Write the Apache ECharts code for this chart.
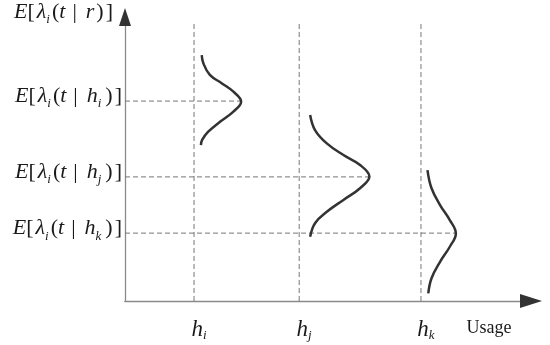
<!DOCTYPE html>
<html>
<head>
<meta charset="utf-8">
<script src="https://cdn.jsdelivr.net/npm/echarts@6/dist/echarts.min.js"></script>
<style>
  html, body { margin: 0; padding: 0; background: #fff; }
  #chart { width: 550px; height: 345px; }
</style>
</head>
<body>
<div id="chart"></div>
<script>
// positions of h_i, h_j, h_k on the usage axis
const hPos = [1.7, 4.29, 7.29]
const hSubs = ['i', 'j', 'k']
// expected values E[λi(t|h)] for each h
const levels = [7.04, 4.37, 2.39]
const dashTop = 9.8

// distribution curves, [usage, value]
const curveI = [[1.89, 8.66], [1.93, 8.37], [2.09, 7.96], [2.38, 7.67], [2.67, 7.37], [2.86, 7.02],
  [2.67, 6.67], [2.34, 6.31], [2.05, 5.96], [1.90, 5.67], [1.87, 5.49]]
const curveJ = [[4.56, 6.55], [4.68, 6.02], [4.97, 5.55], [5.38, 5.14], [5.79, 4.79], [6.02, 4.38],
  [5.79, 3.97], [5.38, 3.56], [4.97, 3.14], [4.68, 2.74], [4.56, 2.26]]
const curveK = [[7.45, 4.61], [7.55, 3.97], [7.76, 3.38], [8.00, 2.85], [8.15, 2.38],
  [8.00, 1.91], [7.76, 1.38], [7.55, 0.80], [7.47, 0.27]]
const curves = [curveI, curveJ, curveK]
const peaks = [2.86, 6.02, 8.15]

const serif = 'Liberation Serif'
const ink = '#1a1a1a'
const dashColor = '#777'
const axisGray = '#8a8a8a'
const arrowDark = '#333'

// main glyphs lifted a little, subscripts dropped
const up = (r, l) => [0, r || 0, 10, l || 0]
const mathRich = {
  n: { fontFamily: serif, fontSize: 22, color: ink, padding: up() },
  nl: { fontFamily: serif, fontSize: 22, color: ink, padding: up(0, 2) },
  m: { fontFamily: serif, fontSize: 22, fontStyle: 'italic', color: ink, padding: up() },
  ml: { fontFamily: serif, fontSize: 22, fontStyle: 'italic', color: ink, padding: up(0, 2) },
  bar: { fontFamily: serif, fontSize: 22, color: ink, padding: up(9, 7) },
  s: { fontFamily: serif, fontSize: 13, fontStyle: 'italic', color: ink, padding: [6, 2, 0, 0] }
}

const expectText = (sub) =>
  '{m|E}{n|[}{ml|λ}{s|i}{n|(}{m|t}{bar||}{m|' + sub + '}{nl|)}{nl|]}'

const chart = echarts.init(document.getElementById('chart'))

const series = []
hPos.forEach((h) => {
  series.push({
    type: 'line', silent: true, symbol: 'none', z: 1,
    data: [[h, 0], [h, dashTop]],
    lineStyle: { color: dashColor, width: 1, type: [5, 3] }
  })
})
levels.forEach((lv, i) => {
  series.push({
    type: 'line', silent: true, symbol: 'none', z: 1,
    data: [[0, lv], [peaks[i], lv]],
    lineStyle: { color: dashColor, width: 1, type: [5, 3] }
  })
})
curves.forEach((c) => {
  series.push({
    type: 'line', silent: true, symbol: 'none', smooth: 0.4, z: 3,
    data: c,
    lineStyle: { color: '#333', width: 2.5 }
  })
})

// first axis of each pair only carries the dark arrow head,
// the second one draws the gray line, labels and name on top
const arrowAxis = (pos, size) => ({
  type: 'value', min: 0, max: 10, position: pos,
  axisLine: { show: true, onZero: false, lineStyle: { color: arrowDark, width: 1 }, symbol: ['none', 'triangle'], symbolSize: size },
  axisTick: { show: false }, axisLabel: { show: false }, splitLine: { show: false }
})

chart.setOption({
  animation: false,
  grid: { left: 125, right: 19, top: 17, bottom: 44, outerBoundsMode: 'none' },
  xAxis: [arrowAxis('bottom', [14, 22]), {
    type: 'value', min: 0, max: 10, position: 'bottom',
    name: 'Usage',
    nameLocation: 'end',
    nameGap: -42,
    nameMoveOverlap: false,
    nameTextStyle: {
      fontFamily: serif, fontSize: 18, color: ink,
      align: 'center', verticalAlign: 'top', lineHeight: 54
    },
    axisLine: { show: true, onZero: false, lineStyle: { color: axisGray, width: 1.3 } },
    axisTick: { show: false },
    splitLine: { show: false },
    axisLabel: {
      customValues: hPos,
      margin: 16,
      formatter: (v) => {
        const i = hPos.findIndex((h) => Math.abs(h - v) < 1e-6)
        return '{h|h}{s|' + hSubs[i] + '}'
      },
      rich: {
        h: { fontFamily: serif, fontSize: 23, fontStyle: 'italic', color: ink, padding: [0, 0, 0, 10] },
        s: { fontFamily: serif, fontSize: 13, fontStyle: 'italic', color: ink, padding: [12, 0, 0, 0] }
      }
    }
  }],
  yAxis: [arrowAxis('left', [12, 18]), {
    type: 'value', min: 0, max: 10, position: 'left',
    name: expectText('r'),
    nameLocation: 'end',
    nameGap: 0,
    nameTextStyle: { align: 'right', verticalAlign: 'middle', padding: [0, 12, 0, 0], rich: mathRich },
    axisLine: { show: true, onZero: false, lineStyle: { color: axisGray, width: 1.3 } },
    axisTick: { show: false },
    splitLine: { show: false },
    axisLabel: {
      customValues: levels,
      margin: 3,
      formatter: (v) => {
        const i = levels.findIndex((l) => Math.abs(l - v) < 1e-6)
        return expectText('h}{s|' + hSubs[i])
      },
      rich: mathRich
    }
  }],
  series
})
</script>
</body>
</html>
